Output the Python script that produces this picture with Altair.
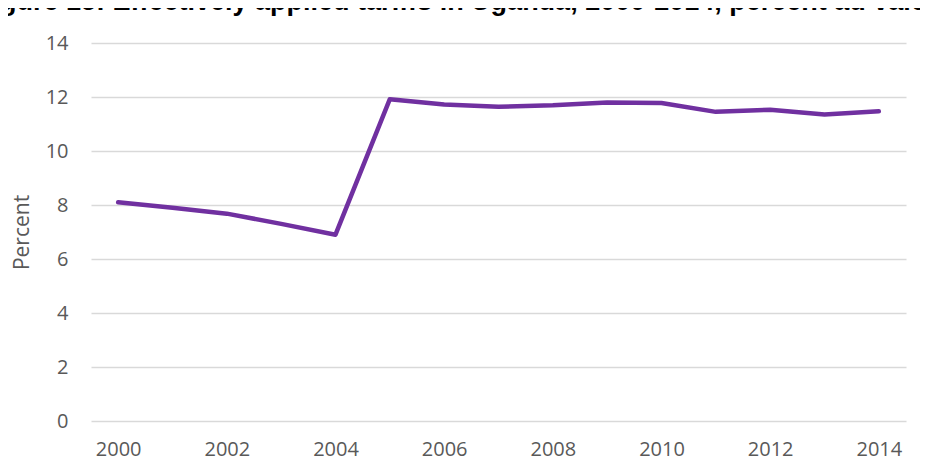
import altair as alt
import pandas as pd

years = list(range(2000, 2015))
tariff = [8.1, 7.9, 7.68, 7.3, 6.9, 11.92, 11.72, 11.64, 11.69, 11.8, 11.78, 11.45, 11.53, 11.35, 11.47]
x_ticks = [2000, 2002, 2004, 2006, 2008, 2010, 2012, 2014]
y_ticks = [0, 2, 4, 6, 8, 10, 12, 14]
title_text = "Figure 15: Effectively applied tariffs in Uganda, 2000-2014, percent ad valorem"

df = pd.DataFrame({"year": years, "tariff": tariff})

chart = alt.Chart(df).mark_line(color="#7030A0", strokeWidth=4.5, strokeCap="round", strokeJoin="round").encode(
    x=alt.X("year:Q",
            scale=alt.Scale(domain=[1999.5, 2014.5], nice=False, zero=False),
            axis=alt.Axis(values=x_ticks, format="d", title=None, grid=False, domain=False, ticks=False,
                          labelFont="Open Sans", labelFontSize=20, labelColor="#595959", labelPadding=18)),
    y=alt.Y("tariff:Q",
            scale=alt.Scale(domain=[0, 14], nice=False),
            axis=alt.Axis(values=y_ticks, title="Percent", grid=True, gridColor="#d9d9d9", gridWidth=1.5,
                          domain=False, ticks=False,
                          labelFont="Open Sans", labelFontSize=20, labelColor="#595959", labelPadding=23,
                          titleFont="Open Sans", titleFontSize=21, titleFontWeight="normal",
                          titleColor="#595959", titlePadding=13)),
).properties(
    width=815,
    height=378,
    title=alt.TitleParams(text=title_text, anchor="start", frame="group", dx=-115, dy=16, offset=12,
                          baseline="alphabetic", font="Liberation Sans", fontSize=27,
                          fontWeight="bold", color="#000000"),
    autosize=alt.AutoSizeParams(type="none"),
    padding={"left": 83, "top": 35, "right": 14, "bottom": 50},
).configure_view(stroke=None)

chart.save("out.html", embed_options={"renderer": "svg", "actions": False})
